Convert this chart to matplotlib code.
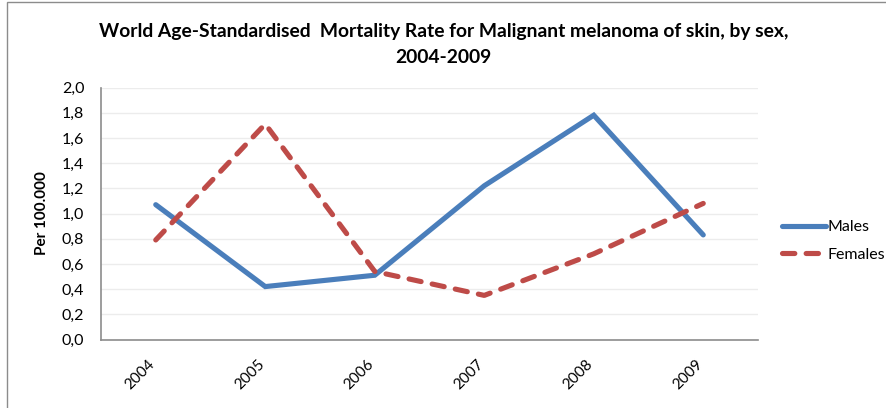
import matplotlib
matplotlib.use("Agg")
import matplotlib.pyplot as plt
from matplotlib.patches import Rectangle
from matplotlib.transforms import ScaledTranslation

years = ["2004", "2005", "2006", "2007", "2008", "2009"]
males = [1.07, 0.42, 0.51, 1.22, 1.78, 0.83]
females = [0.79, 1.71, 0.54, 0.35, 0.68, 1.08]
yticks = [0.0, 0.2, 0.4, 0.6, 0.8, 1.0, 1.2, 1.4, 1.6, 1.8, 2.0]

plt.rcParams['font.family'] = ['Lato', 'DejaVu Sans']

fig = plt.figure(figsize=(8.87, 4.08), dpi=100)
fig.patches.append(Rectangle((7/887, -0.1), 1.2, 1 - 2/408 + 0.1, transform=fig.transFigure,
                             fill=False, edgecolor='#8c8c8c', lw=1.0))
ax = fig.add_axes([101/887, 68.5/408, 657/887, 252/408])

x = range(len(years))
ax.plot(x, males, color='#4A7EBB', lw=3.7, solid_capstyle='round', solid_joinstyle='miter', label='Males')
ax.plot(x, females, color='#BE4B48', lw=3.7, linestyle=(0, (2.4, 2.2)), dash_capstyle='round',
        label='Females')

ax.set_xlim(-0.5, 5.5)
ax.set_ylim(0, 2.0)
ax.set_yticks(yticks)
ax.set_yticklabels([f"{v:.1f}".replace('.', ',') for v in yticks], fontsize=11.5)
ax.set_xticks(list(x))
ax.tick_params(axis='both', length=0)
ax.tick_params(axis='y', pad=12)
ax.tick_params(axis='x', pad=8)
ax.set_xticklabels(years, rotation=45, ha='right', rotation_mode='anchor', fontsize=11)
off = ScaledTranslation(-8/100, -7/100, fig.dpi_scale_trans)
for lab in ax.get_xticklabels():
    lab.set_transform(lab.get_transform() + off)
ax.grid(axis='y', color='#ececec', lw=1)
ax.set_axisbelow(True)
for s in ['top', 'right']:
    ax.spines[s].set_visible(False)
for s in ['left', 'bottom']:
    ax.spines[s].set_color('#8c8c8c')
    ax.spines[s].set_linewidth(1.2)

ax.set_ylabel("Per 100.000", fontsize=11, fontweight='bold', labelpad=9)

fig.text(0.5, 1 - 44.5/408, "World Age-Standardised  Mortality Rate for Malignant melanoma of skin, by sex,\n2004-2009",
         ha='center', va='center', fontsize=13.9, fontweight='bold', linespacing=1.65)

leg = fig.legend(*ax.get_legend_handles_labels(), loc='center left',
                 bbox_to_anchor=(782/887, 1 - 241/408), frameon=False, fontsize=11.5,
                 handlelength=2.75, handletextpad=0.1, labelspacing=0.85, borderaxespad=0, borderpad=0)

fig.savefig("out.png", dpi=100)
